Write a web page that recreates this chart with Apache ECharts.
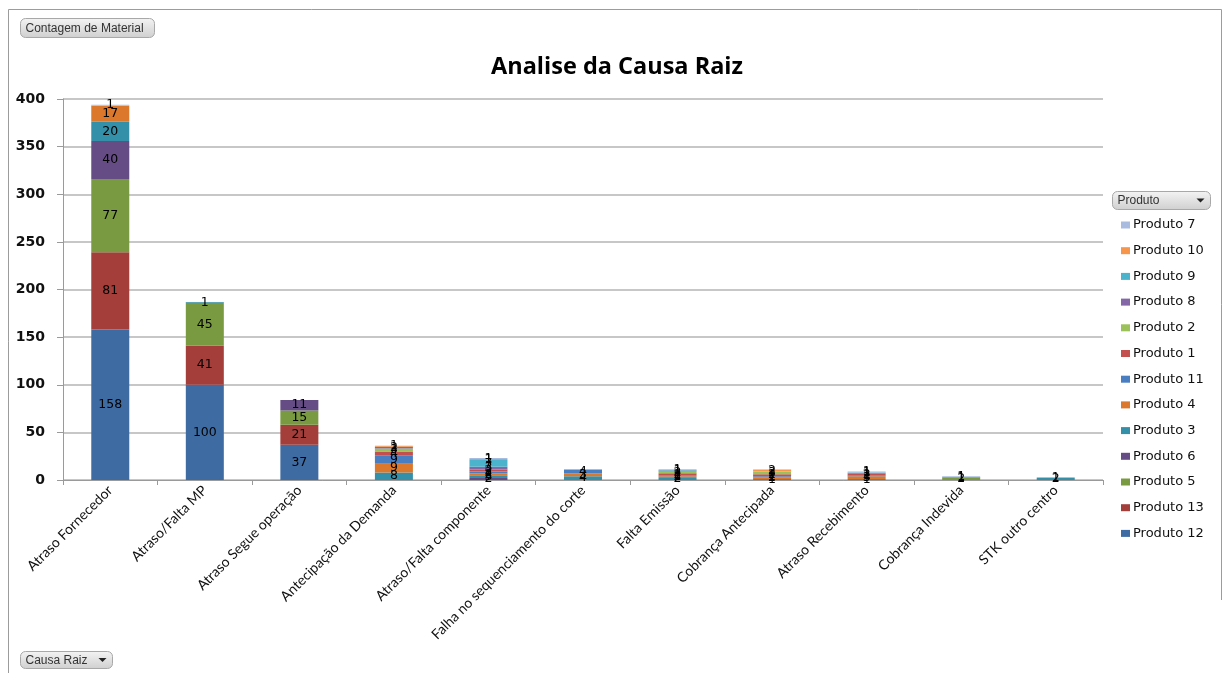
<!DOCTYPE html>
<html>
<head>
<meta charset="utf-8">
<script src="https://cdn.jsdelivr.net/npm/echarts@6/dist/echarts.min.js"></script>
<style>
  html, body { margin: 0; padding: 0; background: #ffffff; }
  #chart { width: 1226px; height: 673px; }
</style>
</head>
<body>
<div id="chart"></div>
<script>
// Causas raiz (eixo X)
const categories = [
  "Atraso Fornecedor", "Atraso/Falta MP", "Atraso Segue operação",
  "Antecipação da Demanda", "Atraso/Falta componente",
  "Falha no sequenciamento do corte", "Falta Emissão",
  "Cobrança Antecipada", "Atraso Recebimento", "Cobrança Indevida",
  "STK outro centro"
];

// Contagem de material por produto (mesma ordem das categorias)
const produto12 = [158, 100, 37, 0, 0, 0, 0, 0, 0, 0, 0];
const produto13 = [81, 41, 21, 0, 0, 0, 0, 0, 0, 0, 0];
const produto5  = [77, 45, 15, 0, 0, 0, 0, 0, 0, 2, 0];
const produto6  = [40, 0, 11, 0, 2, 0, 0, 0, 0, 0, 0];
const produto3  = [20, 1, 0, 8, 3, 4, 2, 1, 1, 0, 2];
const produto4  = [17, 0, 0, 9, 2, 3, 2, 2, 3, 0, 0];
const produto11 = [0, 0, 0, 9, 2, 4, 1, 1, 1, 0, 0];
const produto1  = [0, 0, 0, 4, 2, 0, 2, 2, 2, 0, 0];
const produto2  = [0, 0, 0, 3, 0, 0, 2, 3, 0, 0, 0];
const produto8  = [0, 0, 0, 2, 3, 0, 1, 0, 0, 1, 0];
const produto9  = [0, 0, 0, 0, 7, 0, 1, 0, 1, 0, 0];
const produto10 = [0, 0, 0, 1, 1, 0, 0, 2, 0, 0, 1];
const produto7  = [1, 0, 0, 0, 1, 0, 0, 0, 1, 1, 0];

// Eixo Y
const yTicks = [0, 50, 100, 150, 200, 250, 300, 350, 400];

// Pilha de baixo para cima
const stackOrder = [
  { name: "Produto 12", data: produto12, color: "#3F6BA3" },
  { name: "Produto 13", data: produto13, color: "#A33E3B" },
  { name: "Produto 5",  data: produto5,  color: "#799A40" },
  { name: "Produto 6",  data: produto6,  color: "#654C85" },
  { name: "Produto 3",  data: produto3,  color: "#3490A9" },
  { name: "Produto 4",  data: produto4,  color: "#DB782C" },
  { name: "Produto 11", data: produto11, color: "#4A7EC2" },
  { name: "Produto 1",  data: produto1,  color: "#C3504E" },
  { name: "Produto 2",  data: produto2,  color: "#9CC05A" },
  { name: "Produto 8",  data: produto8,  color: "#8367A6" },
  { name: "Produto 9",  data: produto9,  color: "#4BB3CC" },
  { name: "Produto 10", data: produto10, color: "#F7954A" },
  { name: "Produto 7",  data: produto7,  color: "#A9BCE0" }
];

// Legenda de cima para baixo
const legendOrder = stackOrder.map(s => s.name).reverse();

function fieldButton(x, y, w, h, text, arrow) {
  const children = [
    {
      type: "rect",
      shape: { x: 0, y: 0, width: w, height: h, r: 5 },
      style: {
        fill: new echarts.graphic.LinearGradient(0, 0, 0, 1, [
          { offset: 0, color: "#f4f4f4" },
          { offset: 1, color: "#cfcfcf" }
        ]),
        stroke: "#a8a8a8", lineWidth: 1
      }
    },
    {
      type: "text",
      style: {
        x: 5, y: h / 2 + 0.5, text: text, fill: "#333",
        font: "12px 'Liberation Sans'", verticalAlign: "middle"
      }
    }
  ];
  if (arrow) {
    children.push({
      type: "polygon",
      shape: { points: [[w - 14, h / 2 - 2], [w - 6, h / 2 - 2], [w - 10, h / 2 + 2]] },
      style: { fill: "#222" }
    });
  }
  return { type: "group", x: x, y: y, children: children };
}

const chart = echarts.init(document.getElementById("chart"), null, { renderer: "canvas" });

chart.setOption({
  backgroundColor: "#ffffff",
  animation: false,
  title: {
    text: "Analise da Causa Raiz",
    left: 612,
    textAlign: "center",
    top: 50,
    textStyle: { fontFamily: "Open Sans", fontWeight: "bold", fontSize: 23.5, color: "#000" }
  },
  legend: {
    orient: "vertical",
    left: 1116,
    top: 213,
    data: legendOrder,
    icon: "rect",
    itemWidth: 9,
    itemHeight: 7,
    itemGap: 11.7,
    textStyle: { fontFamily: "DejaVu Sans", fontSize: 13, color: "#111", lineHeight: 14, padding: [0, 0, 0, -2] }
  },
  grid: { left: 63, right: 123, top: 99, bottom: 193, containLabel: false },
  xAxis: {
    type: "category",
    data: categories,
    axisLine: { lineStyle: { color: "#9a9a9a", width: 1 } },
    axisTick: { show: true, length: 5, lineStyle: { color: "#9a9a9a" } },
    axisLabel: {
      rotate: 45, interval: 0, margin: 8,
      fontFamily: "Lato", fontSize: 14, color: "#111"
    }
  },
  yAxis: {
    type: "value",
    min: yTicks[0],
    max: yTicks[yTicks.length - 1],
    interval: yTicks[1] - yTicks[0],
    axisLine: { show: true, lineStyle: { color: "#9a9a9a" } },
    axisTick: { show: true, length: 6, lineStyle: { color: "#9a9a9a" } },
    splitLine: { lineStyle: { color: "#b4b4b4", width: 1.5 } },
    axisLabel: { margin: 18, fontFamily: "DejaVu Sans", fontWeight: "bold", fontSize: 14, color: "#111" }
  },
  graphic: [
    { type: "line", shape: { x1: 8.5, y1: 9.5, x2: 1221.5, y2: 9.5 }, style: { stroke: "#9c9c9c", lineWidth: 1 } },
    { type: "line", shape: { x1: 8.5, y1: 9.5, x2: 8.5, y2: 673 }, style: { stroke: "#9c9c9c", lineWidth: 1 } },
    { type: "line", shape: { x1: 1221.5, y1: 9.5, x2: 1221.5, y2: 600 }, style: { stroke: "#9c9c9c", lineWidth: 1 } },
    fieldButton(20.5, 18.5, 134, 19, "Contagem de Material", false),
    fieldButton(1112.5, 191.5, 98, 18, "Produto", true),
    fieldButton(20.5, 651.5, 92, 17, "Causa Raiz", true)
  ],
  series: stackOrder.map(s => ({
    name: s.name,
    type: "bar",
    stack: "total",
    barWidth: 38,
    data: s.data,
    itemStyle: { color: s.color },
    label: {
      show: true,
      position: "inside",
      fontFamily: "DejaVu Sans",
      fontSize: 12.5,
      color: "#000",
      formatter: p => (p.value > 0 ? String(p.value) : "")
    }
  }))
});
</script>
</body>
</html>
